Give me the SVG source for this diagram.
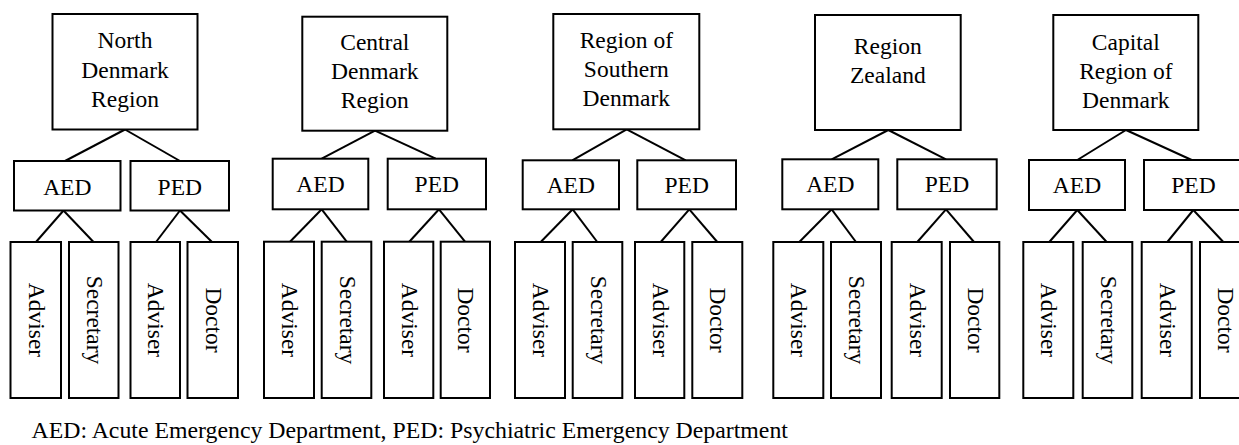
<svg xmlns="http://www.w3.org/2000/svg" width="1239" height="445" viewBox="0 0 1239 445">
<style>
rect{fill:#fff;stroke:#000;stroke-width:2}
.c line{stroke:#000;stroke-width:2}
text{font-family:'Liberation Serif','DejaVu Serif',serif;font-size:23.5px;fill:#000;text-anchor:middle}
.cap{text-anchor:start;font-size:23.8px}
</style>
<rect x="0" y="0" width="1239" height="445" style="stroke:none"/>
<g class="c" id="connectors">
<line x1="125" y1="129.5" x2="65" y2="161"/><line x1="125" y1="129.5" x2="180" y2="161"/>
<line x1="63.5" y1="210.5" x2="36" y2="242"/><line x1="63.5" y1="210.5" x2="93.5" y2="242"/>
<line x1="180" y1="210.5" x2="156" y2="242"/><line x1="180" y1="210.5" x2="212" y2="242"/>

<line x1="375" y1="130.7" x2="321.7" y2="158.7"/><line x1="375" y1="130.7" x2="435.7" y2="158.7"/>
<line x1="321.7" y1="209.3" x2="290" y2="241.7"/><line x1="321.7" y1="209.3" x2="346.7" y2="241.7"/>
<line x1="439" y1="209.3" x2="409.3" y2="241.7"/><line x1="439" y1="209.3" x2="465" y2="241.7"/>

<line x1="626.7" y1="129.3" x2="572.3" y2="160.3"/><line x1="626.7" y1="129.3" x2="685.7" y2="160.3"/>
<line x1="572.7" y1="209.3" x2="540.7" y2="242"/><line x1="572.7" y1="209.3" x2="597.3" y2="242"/>
<line x1="689.3" y1="209.3" x2="660.7" y2="242"/><line x1="689.3" y1="209.3" x2="717.3" y2="242"/>

<line x1="888.3" y1="130" x2="831.7" y2="159.3"/><line x1="888.3" y1="130" x2="946" y2="159.3"/>
<line x1="831.7" y1="209.3" x2="799.3" y2="242"/><line x1="831.7" y1="209.3" x2="856" y2="242"/>
<line x1="946" y1="209.3" x2="917.3" y2="242"/><line x1="946" y1="209.3" x2="974" y2="242"/>

<line x1="1126" y1="130" x2="1077.3" y2="160"/><line x1="1126" y1="130" x2="1191.7" y2="160"/>
<line x1="1077.3" y1="210" x2="1049.3" y2="242"/><line x1="1077.3" y1="210" x2="1106.7" y2="242"/>
<line x1="1193.3" y1="210" x2="1167.3" y2="242"/><line x1="1193.3" y1="210" x2="1223.3" y2="242"/>
</g>

<!-- North Denmark Region -->
<g id="north">
<rect x="52.5" y="14" width="145" height="115.5"/>
<text x="125" y="48.3">North</text><text x="125" y="77.5">Denmark</text><text x="125" y="106.5">Region</text>
</g>
<g id="north-aed"><rect x="14" y="161" width="106.5" height="49.5"/><text x="67.3" y="194.5">AED</text></g>
<g id="north-ped"><rect x="130.5" y="161" width="98.5" height="49.5"/><text x="179.8" y="194.5">PED</text></g>
<g id="north-aed-adviser"><rect x="10.5" y="242" width="50.5" height="156"/><text transform="translate(35.8,320) rotate(90)" y="7">Adviser</text></g>
<g id="north-aed-secretary"><rect x="69" y="242" width="49.5" height="156"/><text transform="translate(93.8,320) rotate(90)" y="7">Secretary</text></g>
<g id="north-ped-adviser"><rect x="130.5" y="242" width="49.5" height="156"/><text transform="translate(155.3,320) rotate(90)" y="7">Adviser</text></g>
<g id="north-ped-doctor"><rect x="187.5" y="242" width="50.5" height="156"/><text transform="translate(212.8,320) rotate(90)" y="7">Doctor</text></g>

<!-- Central Denmark Region -->
<g id="central">
<rect x="302.3" y="16.7" width="145" height="114"/>
<text x="374.8" y="50">Central</text><text x="374.8" y="79">Denmark</text><text x="374.8" y="108">Region</text>
</g>
<g id="central-aed"><rect x="272.7" y="158.7" width="95.6" height="50.6"/><text x="320.5" y="192">AED</text></g>
<g id="central-ped"><rect x="387.7" y="158.7" width="98.3" height="50.6"/><text x="436.8" y="192">PED</text></g>
<g id="central-aed-adviser"><rect x="264" y="241.7" width="50" height="156.3"/><text transform="translate(289,320) rotate(90)" y="7">Adviser</text></g>
<g id="central-aed-secretary"><rect x="321.7" y="241.7" width="49.6" height="156.3"/><text transform="translate(346.5,320) rotate(90)" y="7">Secretary</text></g>
<g id="central-ped-adviser"><rect x="384" y="241.7" width="49.3" height="156.3"/><text transform="translate(408.7,320) rotate(90)" y="7">Adviser</text></g>
<g id="central-ped-doctor"><rect x="440.7" y="241.7" width="49.3" height="156.3"/><text transform="translate(465.3,320) rotate(90)" y="7">Doctor</text></g>

<!-- Region of Southern Denmark -->
<g id="southern">
<rect x="553.3" y="14" width="146" height="115.3"/>
<text x="626.3" y="48.3">Region of</text><text x="626.3" y="77.3">Southern</text><text x="626.3" y="106.3">Denmark</text>
</g>
<g id="southern-aed"><rect x="522.7" y="160.3" width="96.3" height="49"/><text x="570.8" y="193">AED</text></g>
<g id="southern-ped"><rect x="637.3" y="160.3" width="98.7" height="49"/><text x="686.7" y="193">PED</text></g>
<g id="southern-aed-adviser"><rect x="515" y="242" width="50" height="156"/><text transform="translate(540,320) rotate(90)" y="7">Adviser</text></g>
<g id="southern-aed-secretary"><rect x="572.7" y="242" width="49.6" height="156"/><text transform="translate(597.5,320) rotate(90)" y="7">Secretary</text></g>
<g id="southern-ped-adviser"><rect x="635" y="242" width="49.3" height="156"/><text transform="translate(659.7,320) rotate(90)" y="7">Adviser</text></g>
<g id="southern-ped-doctor"><rect x="692.3" y="242" width="50" height="156"/><text transform="translate(717.3,320) rotate(90)" y="7">Doctor</text></g>

<!-- Region Zealand -->
<g id="zealand">
<rect x="815" y="15" width="145.7" height="115"/>
<text x="887.8" y="54.3">Region</text><text x="887.8" y="83">Zealand</text>
</g>
<g id="zealand-aed"><rect x="782.3" y="159.3" width="96" height="50"/><text x="830.3" y="192.3">AED</text></g>
<g id="zealand-ped"><rect x="897.3" y="159.3" width="99.4" height="50"/><text x="947" y="192.3">PED</text></g>
<g id="zealand-aed-adviser"><rect x="773.3" y="242" width="50" height="156"/><text transform="translate(798.3,320) rotate(90)" y="7">Adviser</text></g>
<g id="zealand-aed-secretary"><rect x="831" y="242" width="50" height="156"/><text transform="translate(856,320) rotate(90)" y="7">Secretary</text></g>
<g id="zealand-ped-adviser"><rect x="891.7" y="242" width="50" height="156"/><text transform="translate(916.7,320) rotate(90)" y="7">Adviser</text></g>
<g id="zealand-ped-doctor"><rect x="950" y="242" width="49.3" height="156"/><text transform="translate(974.7,320) rotate(90)" y="7">Doctor</text></g>

<!-- Capital Region of Denmark -->
<g id="capital">
<rect x="1053.3" y="15" width="145" height="115"/>
<text x="1125.8" y="50">Capital</text><text x="1125.8" y="79">Region of</text><text x="1125.8" y="107.5">Denmark</text>
</g>
<g id="capital-aed"><rect x="1029" y="160" width="96" height="50"/><text x="1077" y="193">AED</text></g>
<g id="capital-ped"><rect x="1144" y="160" width="98" height="50"/><text x="1193.5" y="193">PED</text></g>
<g id="capital-aed-adviser"><rect x="1023.3" y="242" width="50" height="156"/><text transform="translate(1048.3,320) rotate(90)" y="7">Adviser</text></g>
<g id="capital-aed-secretary"><rect x="1082.7" y="242" width="49.6" height="156"/><text transform="translate(1107.5,320) rotate(90)" y="7">Secretary</text></g>
<g id="capital-ped-adviser"><rect x="1141.7" y="242" width="50" height="156"/><text transform="translate(1166.7,320) rotate(90)" y="7">Adviser</text></g>
<g id="capital-ped-doctor"><rect x="1200" y="242" width="50" height="156"/><text transform="translate(1225,320) rotate(90)" y="7">Doctor</text></g>

<text class="cap" x="31.5" y="438">AED: Acute Emergency Department, PED: Psychiatric Emergency Department</text>
</svg>
